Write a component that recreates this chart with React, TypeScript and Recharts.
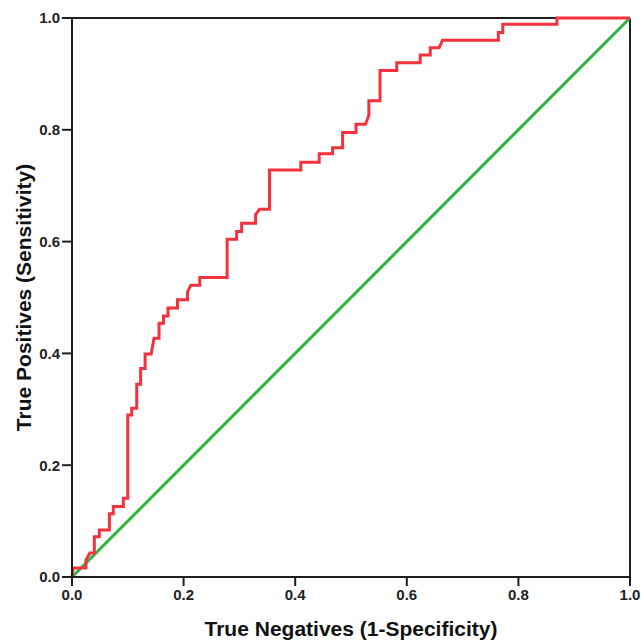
import { LineChart, Line, XAxis, YAxis, ReferenceLine } from 'recharts';

// ROC curve vertices (1 - specificity, sensitivity)
const FPR = [
  0, 0.002, 0.025, 0.025, 0.032, 0.04, 0.04, 0.049, 0.049, 0.067, 0.067, 0.074, 0.074, 0.092, 0.092,
  0.1, 0.1, 0.107, 0.107, 0.116, 0.116, 0.123, 0.123, 0.131, 0.131, 0.142, 0.147, 0.156, 0.156,
  0.164, 0.164, 0.172, 0.172, 0.189, 0.189, 0.207, 0.207, 0.213, 0.229, 0.229, 0.278, 0.278, 0.295,
  0.295, 0.304, 0.304, 0.329, 0.329, 0.336, 0.354, 0.354, 0.41, 0.41, 0.443, 0.443, 0.467, 0.467,
  0.485, 0.485, 0.509, 0.509, 0.526, 0.532, 0.532, 0.552, 0.552, 0.582, 0.582, 0.624, 0.624, 0.642,
  0.642, 0.658, 0.664, 0.764, 0.764, 0.772, 0.772, 0.869, 0.869, 1,
];
const TPR = [
  0, 0.016, 0.016, 0.03, 0.043, 0.043, 0.072, 0.072, 0.084, 0.084, 0.113, 0.113, 0.126, 0.126, 0.141,
  0.141, 0.29, 0.29, 0.302, 0.302, 0.345, 0.345, 0.373, 0.373, 0.399, 0.399, 0.427, 0.427, 0.454,
  0.454, 0.467, 0.467, 0.481, 0.481, 0.496, 0.496, 0.51, 0.522, 0.522, 0.536, 0.536, 0.604, 0.604,
  0.618, 0.618, 0.633, 0.633, 0.648, 0.658, 0.658, 0.728, 0.728, 0.742, 0.742, 0.757, 0.757, 0.768,
  0.768, 0.795, 0.795, 0.81, 0.81, 0.826, 0.852, 0.852, 0.906, 0.906, 0.92, 0.92, 0.934, 0.934,
  0.947, 0.947, 0.96, 0.96, 0.974, 0.974, 0.989, 0.989, 1, 1,
];

// reference (chance) line
const DIAG_X = [0, 1];
const DIAG_Y = [0, 1];

const TICKS = [0, 0.2, 0.4, 0.6, 0.8, 1.0];

const rocData = FPR.map((x, i) => ({ x, y: TPR[i] }));
const diagData = DIAG_X.map((x, i) => ({ x, y: DIAG_Y[i] }));

const AXIS = '#1e1e1e';
const tickStyle = { fill: '#222', fontSize: 15, fontWeight: 'bold', fontFamily: 'Liberation Sans, Arial, sans-serif' };

export default function App() {
  return (
    <div style={{ position: 'absolute', left: 0, top: 0, background: '#fff' }}>
      <LineChart
        width={641}
        height={640}
        margin={{ top: 18, right: 11, bottom: 0, left: 0 }}
        style={{ fontFamily: 'Liberation Sans, Arial, sans-serif' }}
      >
        <XAxis
          type="number"
          dataKey="x"
          domain={[0, 1]}
          ticks={TICKS}
          tickFormatter={(v: number) => v.toFixed(1)}
          height={63}
          tickSize={9}
          tickMargin={3}
          tick={tickStyle}
          stroke={AXIS}
          strokeWidth={2}
          label={{
            value: 'True Negatives (1-Specificity)',
            position: 'insideBottom',
            offset: 4,
            style: { fontSize: 21, fontWeight: 'bold', fill: '#111' },
          }}
        />
        <YAxis
          type="number"
          dataKey="y"
          domain={[0, 1]}
          ticks={TICKS}
          tickFormatter={(v: number) => v.toFixed(1)}
          width={72}
          tickSize={10}
          tickMargin={2}
          tick={tickStyle}
          stroke={AXIS}
          strokeWidth={2}
          label={{
            value: 'True Positives (Sensitivity)',
            angle: -90,
            position: 'insideLeft',
            offset: 24,
            style: { fontSize: 21, fontWeight: 'bold', fill: '#111', textAnchor: 'middle' },
          }}
        />
        <ReferenceLine y={1} stroke={AXIS} strokeWidth={2} />
        <ReferenceLine x={1} stroke={AXIS} strokeWidth={2} />
        <Line
          data={diagData}
          dataKey="y"
          type="linear"
          stroke="#2db43c"
          strokeWidth={3}
          dot={false}
          isAnimationActive={false}
        />
        <Line
          data={rocData}
          dataKey="y"
          type="linear"
          stroke="#f2323c"
          strokeWidth={3}
          dot={false}
          isAnimationActive={false}
        />
      </LineChart>
    </div>
  );
}
